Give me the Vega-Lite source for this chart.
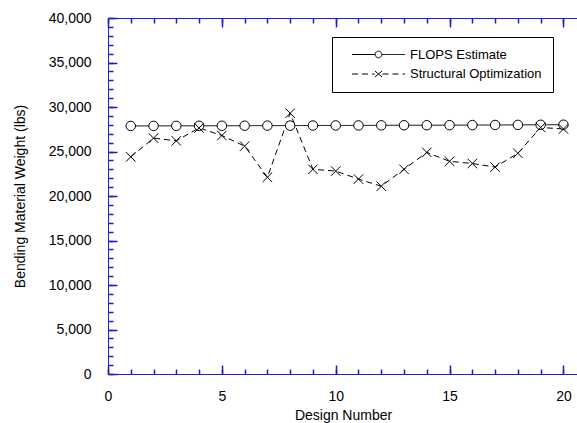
{
  "$schema": "https://vega.github.io/schema/vega-lite/v6.json",
  "width": 470,
  "height": 356,
  "autosize": "none",
  "padding": {"left": 108, "top": 18, "right": -1, "bottom": 49},
  "background": "white",
  "config": {
    "view": {"stroke": "#2020cc", "strokeWidth": 1, "fill": null},
    "font": "Liberation Sans",
    "axis": {
      "domain": false,
      "grid": false,
      "labelFont": "Liberation Sans",
      "labelFontSize": 14,
      "labelColor": "black",
      "labelFlush": false,
      "labelOverlap": false,
      "titleFont": "Liberation Sans",
      "titleFontSize": 14,
      "titleFontWeight": "normal",
      "titleColor": "black"
    }
  },
  "data": {
    "values": [
      {"design": 1, "series": "FLOPS Estimate", "weight": 27870},
      {"design": 2, "series": "FLOPS Estimate", "weight": 27880},
      {"design": 3, "series": "FLOPS Estimate", "weight": 27880},
      {"design": 4, "series": "FLOPS Estimate", "weight": 27890},
      {"design": 5, "series": "FLOPS Estimate", "weight": 27890},
      {"design": 6, "series": "FLOPS Estimate", "weight": 27900},
      {"design": 7, "series": "FLOPS Estimate", "weight": 27910},
      {"design": 8, "series": "FLOPS Estimate", "weight": 27910},
      {"design": 9, "series": "FLOPS Estimate", "weight": 27920},
      {"design": 10, "series": "FLOPS Estimate", "weight": 27930},
      {"design": 11, "series": "FLOPS Estimate", "weight": 27930},
      {"design": 12, "series": "FLOPS Estimate", "weight": 27940},
      {"design": 13, "series": "FLOPS Estimate", "weight": 27950},
      {"design": 14, "series": "FLOPS Estimate", "weight": 27950},
      {"design": 15, "series": "FLOPS Estimate", "weight": 27960},
      {"design": 16, "series": "FLOPS Estimate", "weight": 27970},
      {"design": 17, "series": "FLOPS Estimate", "weight": 27980},
      {"design": 18, "series": "FLOPS Estimate", "weight": 27990},
      {"design": 19, "series": "FLOPS Estimate", "weight": 28000},
      {"design": 20, "series": "FLOPS Estimate", "weight": 28010},
      {"design": 1, "series": "Structural Optimization", "weight": 24400},
      {"design": 2, "series": "Structural Optimization", "weight": 26500},
      {"design": 3, "series": "Structural Optimization", "weight": 26200},
      {"design": 4, "series": "Structural Optimization", "weight": 27650},
      {"design": 5, "series": "Structural Optimization", "weight": 26800},
      {"design": 6, "series": "Structural Optimization", "weight": 25600},
      {"design": 7, "series": "Structural Optimization", "weight": 22100},
      {"design": 8, "series": "Structural Optimization", "weight": 29300},
      {"design": 9, "series": "Structural Optimization", "weight": 23000},
      {"design": 10, "series": "Structural Optimization", "weight": 22800},
      {"design": 11, "series": "Structural Optimization", "weight": 21900},
      {"design": 12, "series": "Structural Optimization", "weight": 21100},
      {"design": 13, "series": "Structural Optimization", "weight": 23000},
      {"design": 14, "series": "Structural Optimization", "weight": 24900},
      {"design": 15, "series": "Structural Optimization", "weight": 23900},
      {"design": 16, "series": "Structural Optimization", "weight": 23650},
      {"design": 17, "series": "Structural Optimization", "weight": 23250},
      {"design": 18, "series": "Structural Optimization", "weight": 24800},
      {"design": 19, "series": "Structural Optimization", "weight": 27700},
      {"design": 20, "series": "Structural Optimization", "weight": 27530}
    ]
  },
  "layer": [
    {
      "mark": {"type": "line", "color": "black", "strokeWidth": 1},
      "encoding": {
        "x": {
          "field": "design",
          "type": "quantitative",
          "scale": {"domain": [0, 20.64], "nice": false},
          "axis": {
            "orient": "bottom",
            "tickCount": 4,
            "offset": -9,
            "tickSize": 9,
            "tickColor": "#1c1cc8",
            "tickWidth": 1.5,
            "labelPadding": 15,
            "title": "Design Number",
            "titlePadding": 5
          }
        },
        "y": {
          "field": "weight",
          "type": "quantitative",
          "scale": {"domain": [0, 40000], "nice": false},
          "axis": {
            "orient": "left",
            "tickCount": 8,
            "format": ",.0f",
            "offset": -9,
            "tickSize": 9,
            "tickColor": "#1c1cc8",
            "tickWidth": 1.5,
            "labelPadding": 17,
            "title": "Bending Material Weight (lbs)",
            "titlePadding": 21
          }
        },
        "strokeDash": {
          "field": "series",
          "type": "nominal",
          "scale": {"domain": ["FLOPS Estimate", "Structural Optimization"], "range": [[1, 0], [6, 4]]},
          "legend": {
            "orient": "none",
            "legendX": 224,
            "legendY": 19,
            "title": null,
            "strokeColor": "black",
            "fillColor": "white",
            "padding": 11,
            "labelFont": "Liberation Sans",
            "labelFontSize": 13,
            "labelColor": "black",
            "labelOffset": 54,
            "rowPadding": 5.5,
            "symbolSize": 100,
            "symbolStrokeWidth": 1,
            "symbolStrokeColor": "black",
            "symbolFillColor": "white",
            "encoding": {
              "symbols": {
                "shape": {
                  "condition": {
                    "test": "datum.value === 'FLOPS Estimate'",
                    "value": "M0.5,0H5.14M6.46,0H11.1M5.14,0A0.66,0.66 0 1,1 6.46,0A0.66,0.66 0 1,1 5.14,0"
                  },
                  "value": "M0.5,0H5M6.6,0H11.1M5.8,0L5.1,-0.6M5.8,0L6.5,0.6M5.8,0L5.1,0.6M5.8,0L6.5,-0.6"
                },
                "size": {"value": 100},
                "fill": {"value": "white"},
                "stroke": {"value": "black"}
              }
            }
          }
        }
      }
    },
    {
      "transform": [{"filter": "datum.series === 'FLOPS Estimate'"}],
      "mark": {"type": "point", "shape": "circle", "fill": "white", "stroke": "black", "strokeWidth": 1, "opacity": 1, "size": 90},
      "encoding": {
        "x": {
          "field": "design",
          "type": "quantitative",
          "axis": {"orient": "bottom", "tickCount": 20, "offset": -5, "tickSize": 5, "tickColor": "#1c1cc8", "tickWidth": 1.5, "labels": false, "title": null}
        },
        "y": {
          "field": "weight",
          "type": "quantitative",
          "axis": {"orient": "left", "tickCount": 40, "offset": -5, "tickSize": 5, "tickColor": "#1c1cc8", "tickWidth": 1.5, "labels": false, "title": null}
        }
      }
    },
    {
      "transform": [{"filter": "datum.series === 'Structural Optimization'"}],
      "mark": {"type": "point", "shape": "M-1,-1L1,1M-1,1L1,-1", "fill": "white", "stroke": "black", "strokeWidth": 1, "opacity": 1, "size": 90},
      "encoding": {
        "x": {
          "field": "design",
          "type": "quantitative",
          "axis": {"orient": "top", "tickCount": 4, "offset": -9, "tickSize": 9, "tickColor": "#1c1cc8", "tickWidth": 1.5, "labels": false, "title": null}
        },
        "y": {"field": "weight", "type": "quantitative", "axis": null}
      }
    },
    {
      "mark": {"type": "point", "opacity": 0},
      "encoding": {
        "x": {
          "field": "design",
          "type": "quantitative",
          "axis": {"orient": "top", "tickCount": 20, "offset": -5, "tickSize": 5, "tickColor": "#1c1cc8", "tickWidth": 1.5, "labels": false, "title": null}
        },
        "y": {"field": "weight", "type": "quantitative", "axis": null}
      }
    }
  ],
  "resolve": {"axis": {"x": "independent", "y": "independent"}}
}
